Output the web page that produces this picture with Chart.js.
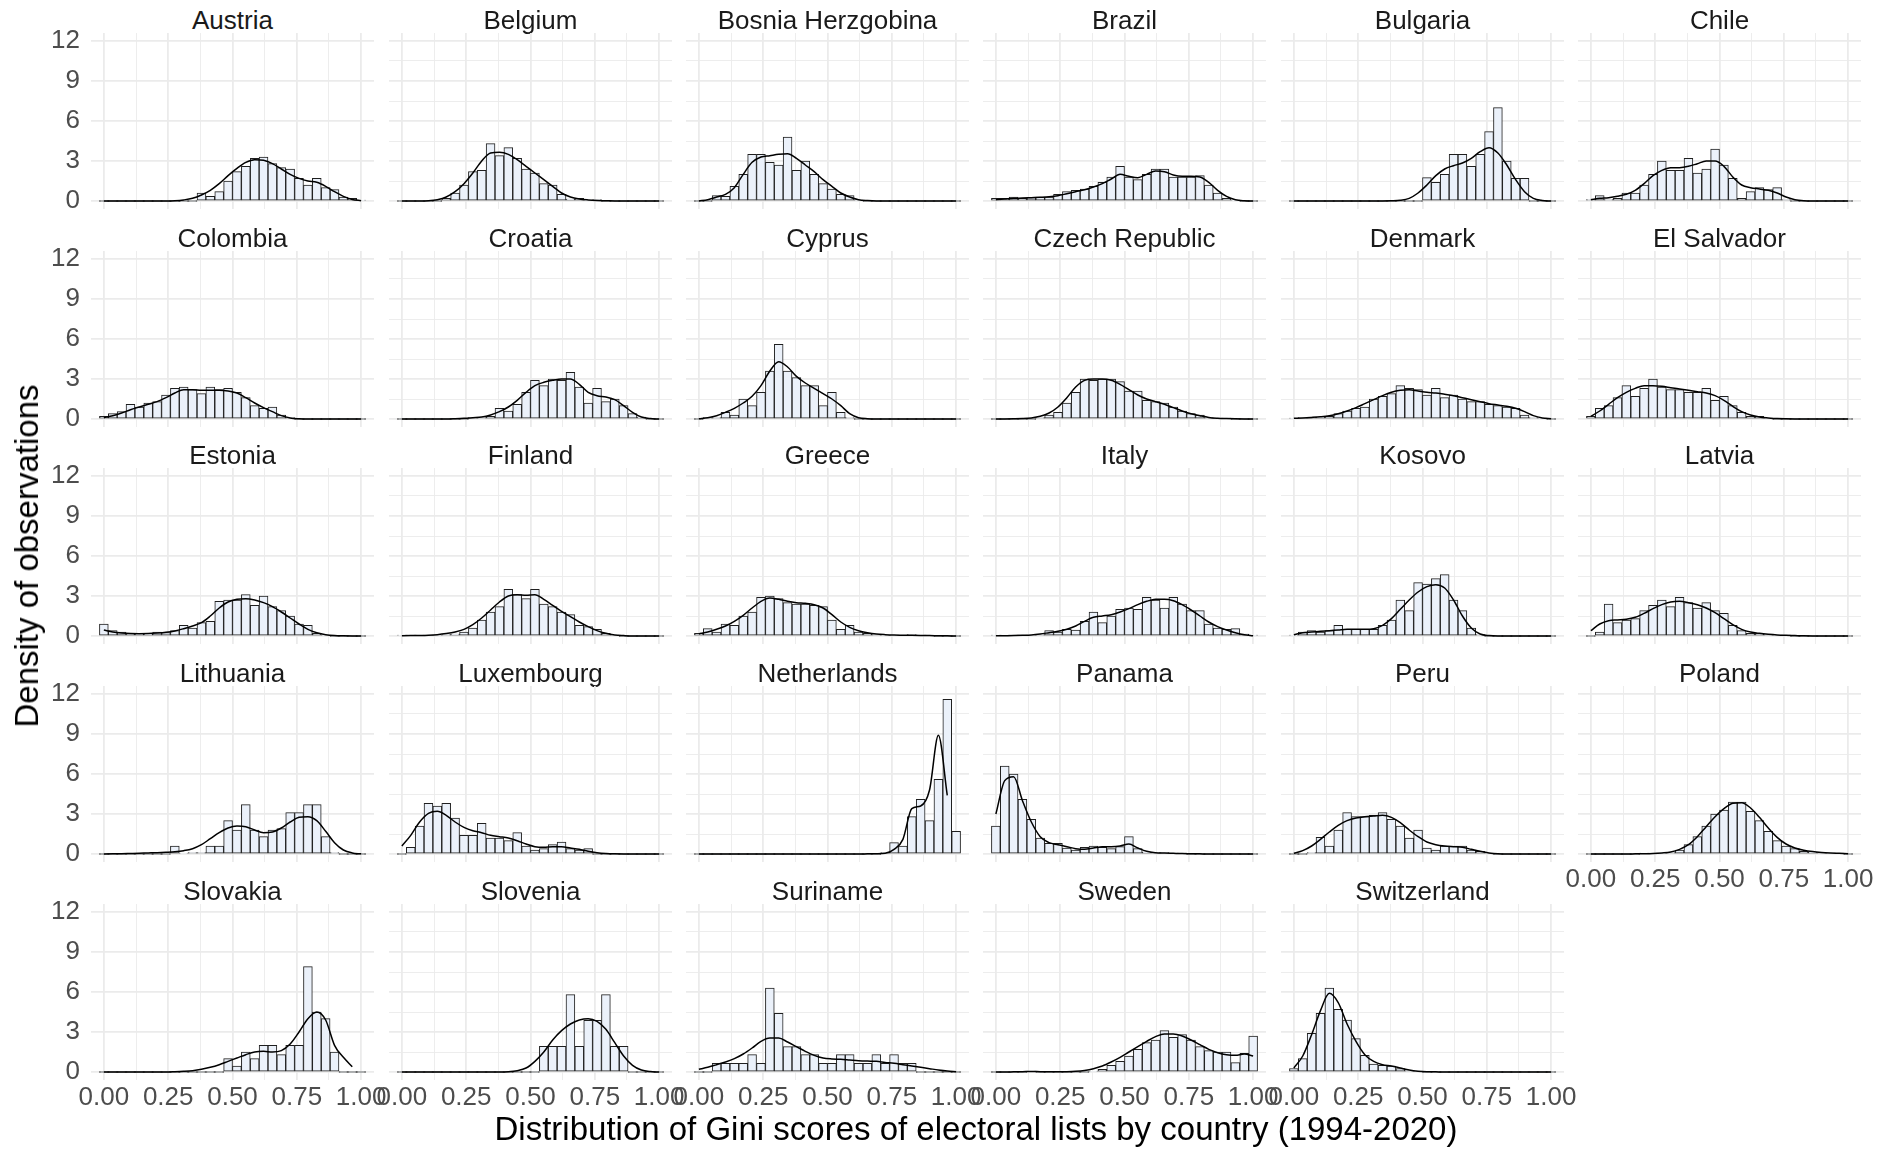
<!DOCTYPE html>
<html>
<head>
<meta charset="utf-8">
<script src="https://cdn.jsdelivr.net/npm/chart.js@4.4.1/dist/chart.umd.min.js"></script>
<style>
  body { margin: 0; background: #fff; width: 1894px; height: 1150px; position: relative; overflow: hidden;
         font-family: "Liberation Sans", Arial, sans-serif; }
  canvas { position: absolute; }
  .strip { position: absolute; text-align: center; font-size: 26px; line-height: 30px; color: #1a1a1a; white-space: nowrap; }
  .axtitle { position: absolute; font-size: 33px; line-height: 38px; color: #000; white-space: nowrap; }
</style>
</head>
<body>
<div id="fig"></div>
<script>
/* Gini histograms (density) with kernel density line, one small panel per country. */

// bin centres of the 30 histogram bins, shared by every panel
var binCenters = [0, 0.0345, 0.069, 0.1034, 0.1379, 0.1724, 0.2069, 0.2414, 0.2759, 0.3103,
  0.3448, 0.3793, 0.4138, 0.4483, 0.4828, 0.5172, 0.5517, 0.5862, 0.6207, 0.6552,
  0.6897, 0.7241, 0.7586, 0.7931, 0.8276, 0.8621, 0.8966, 0.931, 0.9655, 1];
var xTickValues = [0, 0.125, 0.25, 0.375, 0.5, 0.625, 0.75, 0.875, 1];
var yTickValues = [0, 1.5, 3, 4.5, 6, 7.5, 9, 10.5, 12];

var austriaBars = [0,0,0,0,0,0,0,0,0,0,0,0.6,0.35,0.7,1.5,2.2,2.6,3.2,3.3,2.8,2.5,2.4,1.7,1.2,1.7,1.0,0.85,0.3,0.2,0.05];
var austriaDensity = [0,0,0,0,0,0,0,0,0.02,0.08,0.2,0.45,0.8,1.3,1.9,2.45,2.9,3.1,3.05,2.8,2.4,2.0,1.7,1.5,1.4,1.1,0.7,0.35,0.12,0.02];
var belgiumBars = [0,0,0,0,0,0.2,0.6,1.2,2.2,2.3,4.3,3.4,4.0,3.2,2.4,2.1,1.3,1.2,0.5,0.15,0.2,0.05,0.1,0,0,0,0,0,0,0];
var belgiumDensity = [0,0,0,0.02,0.1,0.3,0.7,1.3,2.1,3.0,3.6,3.65,3.5,3.1,2.6,2.1,1.6,1.1,0.6,0.3,0.15,0.08,0.04,0.02,0,0,0,0,0,0];
var bosniaBars = [0,0,0.4,0.35,1.1,2.0,3.5,3.5,2.9,2.7,4.8,2.3,3.0,2.0,1.3,0.9,0.5,0.4,0.05,0,0,0,0,0,0,0,0,0,0,0];
var bosniaDensity = [0,0.1,0.3,0.5,1.0,2.0,2.9,3.3,3.4,3.5,3.55,3.2,2.7,2.2,1.6,1.1,0.6,0.3,0.1,0.03,0,0,0,0,0,0,0,0,0,0];
var brazilBars = [0.2,0.2,0.3,0.2,0.25,0.3,0.3,0.5,0.7,0.8,0.9,1.1,1.4,1.8,2.6,1.8,1.6,2.0,2.4,2.4,1.8,1.8,1.8,1.9,1.2,0.6,0.2,0.05,0,0];
var brazilDensity = [0.1,0.15,0.2,0.22,0.25,0.28,0.32,0.4,0.55,0.7,0.85,1.05,1.3,1.65,2.0,1.85,1.75,2.0,2.25,2.2,1.95,1.85,1.85,1.8,1.4,0.8,0.35,0.1,0.02,0];
var bulgariaBars = [0,0,0,0,0,0,0,0,0,0,0,0,0,0,0,1.75,1.4,2.0,3.5,3.5,2.6,3.5,5.2,7.0,3.0,1.7,1.7,0,0,0];
var bulgariaDensity = [0,0,0,0,0,0,0,0,0,0,0,0.01,0.05,0.2,0.6,1.2,1.9,2.4,2.65,2.85,3.2,3.7,4.0,3.6,2.7,1.6,0.7,0.2,0.04,0];
var chileBars = [0.1,0.4,0.1,0.2,0.6,0.6,1.2,2.0,3.0,2.3,2.3,3.2,2.1,2.4,3.9,2.7,1.7,0.2,0.7,1.0,0.85,1.0,0.1,0,0,0,0,0,0,0];
var chileDensity = [0.1,0.2,0.25,0.35,0.5,0.8,1.3,1.9,2.3,2.5,2.5,2.6,2.8,3.0,3.0,2.6,1.8,1.2,1.0,0.9,0.8,0.6,0.3,0.1,0.02,0,0,0,0,0];
var colombiaBars = [0.2,0.4,0.55,1.1,0.9,1.2,1.3,1.8,2.3,2.4,2.2,1.9,2.4,2.2,2.3,2.0,1.6,1.0,0.8,0.9,0.3,0.1,0,0,0,0,0,0,0,0];
var colombiaDensity = [0.1,0.25,0.45,0.7,0.9,1.1,1.3,1.6,1.95,2.2,2.2,2.15,2.15,2.15,2.1,1.95,1.6,1.2,0.85,0.55,0.25,0.08,0.02,0,0,0,0,0,0,0];
var croatiaBars = [0,0,0,0,0,0,0,0,0.1,0.1,0.2,0.8,0.6,1.1,2.0,2.9,2.5,3.0,2.9,3.5,2.4,1.2,2.3,1.3,1.5,1.0,0.4,0.15,0,0];
var croatiaDensity = [0,0,0,0,0,0,0.02,0.05,0.1,0.15,0.3,0.55,0.9,1.4,2.0,2.5,2.75,2.9,3.0,3.0,2.6,2.0,1.75,1.65,1.45,1.0,0.5,0.15,0.03,0];
var cyprusBars = [0,0.1,0.1,0.5,0.3,1.5,1.0,2.0,3.6,5.6,3.6,3.1,2.5,2.5,1.0,2.0,0.5,0.1,0,0,0,0,0,0,0,0,0,0,0,0];
var cyprusDensity = [0.02,0.1,0.25,0.5,0.8,1.2,1.7,2.5,3.6,4.3,3.9,3.2,2.7,2.3,1.9,1.5,1.0,0.4,0.1,0.02,0,0,0,0,0,0,0,0,0,0];
var czechBars = [0,0,0,0,0,0.1,0.3,0.5,1.2,2.0,3.0,2.9,3.0,3.0,2.8,2.1,2.1,1.4,1.3,1.2,0.9,0.6,0.4,0.3,0.1,0.05,0.05,0,0,0];
var czechDensity = [0,0,0.01,0.03,0.08,0.2,0.45,0.9,1.6,2.4,2.9,3.0,3.0,2.9,2.6,2.2,1.8,1.5,1.3,1.1,0.85,0.6,0.4,0.25,0.12,0.06,0.03,0.01,0,0];
var denmarkBars = [0.05,0.1,0.15,0.15,0.2,0.4,0.6,0.8,0.9,1.5,1.7,1.9,2.5,2.3,2.2,1.8,2.3,1.6,1.8,1.5,1.3,1.3,1.1,1.0,0.9,0.8,0.3,0.1,0.05,0];
var denmarkDensity = [0.05,0.08,0.12,0.17,0.25,0.4,0.6,0.85,1.15,1.45,1.75,2.0,2.15,2.2,2.1,2.0,1.95,1.85,1.75,1.6,1.45,1.3,1.15,1.05,0.95,0.8,0.55,0.25,0.08,0.02];
var elSalvadorBars = [0.2,0.8,1.0,1.6,2.5,1.7,2.3,3.0,2.4,2.2,2.2,2.0,2.0,2.3,1.4,1.7,1.0,0.5,0.2,0.2,0.05,0,0,0,0,0,0,0,0,0];
var elSalvadorDensity = [0.2,0.6,1.1,1.6,2.0,2.3,2.5,2.5,2.45,2.35,2.25,2.15,2.05,1.95,1.75,1.4,0.95,0.55,0.3,0.15,0.08,0.03,0.01,0,0,0,0,0,0,0];
var estoniaBars = [0.9,0.4,0.3,0.2,0.15,0.15,0.3,0.25,0.4,0.8,0.6,1.0,1.1,2.6,2.7,2.7,3.1,2.3,3.0,2.2,1.9,1.5,0.9,0.8,0.2,0.05,0,0,0,0];
var estoniaDensity = [0.45,0.3,0.22,0.18,0.17,0.18,0.22,0.28,0.38,0.55,0.75,1.0,1.5,2.1,2.55,2.75,2.8,2.7,2.5,2.2,1.8,1.35,0.9,0.5,0.25,0.1,0.03,0.01,0,0];
var finlandBars = [0.02,0.03,0.03,0.05,0.05,0.1,0.15,0.3,0.6,1.2,1.8,2.2,3.5,3.1,2.8,3.5,2.4,2.2,1.8,1.6,0.8,0.7,0.5,0.2,0.05,0,0,0,0,0];
var finlandDensity = [0.02,0.03,0.04,0.06,0.1,0.18,0.3,0.5,0.85,1.35,1.95,2.55,3.0,3.1,3.05,3.1,2.75,2.3,1.85,1.45,1.05,0.7,0.4,0.2,0.08,0.03,0,0,0,0];
var greeceBars = [0.2,0.55,0.3,0.9,0.8,1.5,1.8,2.9,3.0,2.8,2.5,2.4,2.4,2.3,2.2,1.2,0.5,0.8,0.3,0.2,0.1,0.05,0.05,0.05,0.1,0.05,0.05,0,0,0];
var greeceDensity = [0.15,0.3,0.5,0.75,1.1,1.55,2.1,2.6,2.85,2.75,2.6,2.5,2.45,2.35,2.1,1.6,1.05,0.65,0.4,0.25,0.15,0.1,0.07,0.06,0.05,0.04,0.03,0.02,0.01,0];
var italyBars = [0.02,0.02,0.03,0.05,0.05,0.1,0.4,0.3,0.5,0.45,1.1,1.8,1.0,1.5,2.0,2.1,2.0,2.9,2.7,2.1,2.9,2.4,1.9,1.9,0.9,0.6,0.5,0.55,0.15,0.05];
var italyDensity = [0.01,0.02,0.03,0.05,0.08,0.15,0.25,0.35,0.5,0.75,1.1,1.4,1.5,1.6,1.8,2.05,2.35,2.6,2.75,2.75,2.65,2.35,1.95,1.5,1.05,0.7,0.45,0.25,0.1,0.02];
var kosovoBars = [0.05,0.3,0.4,0.3,0.4,0.8,0.5,0.5,0.5,0.5,0.8,1.2,2.7,1.9,4.0,3.9,4.3,4.6,2.7,1.9,0.6,0.1,0,0,0,0,0,0,0,0];
var kosovoDensity = [0.1,0.25,0.3,0.35,0.4,0.45,0.5,0.5,0.5,0.55,0.8,1.3,2.0,2.7,3.3,3.7,3.85,3.6,2.7,1.5,0.6,0.15,0.03,0,0,0,0,0,0,0];
var latviaBars = [0,0.3,2.4,1.0,1.2,1.3,1.9,2.3,2.7,2.2,2.9,2.5,2.1,2.5,1.9,1.7,0.8,0.4,0.2,0.2,0.1,0.05,0.05,0,0,0,0,0,0,0];
var latviaDensity = [0.4,0.9,1.15,1.2,1.25,1.4,1.7,2.05,2.35,2.55,2.6,2.5,2.35,2.1,1.75,1.3,0.85,0.5,0.3,0.2,0.13,0.08,0.05,0.03,0.01,0,0,0,0,0];
var lithuaniaBars = [0,0,0,0,0,0,0,0,0.6,0.05,0.1,0.1,0.6,0.6,2.5,1.8,3.7,1.8,1.3,1.8,1.9,3.1,3.1,3.7,3.7,1.3,0.1,0,0,0];
var lithuaniaDensity = [0,0.01,0.02,0.04,0.06,0.08,0.1,0.13,0.17,0.25,0.4,0.7,1.15,1.6,1.95,2.1,2.05,1.8,1.6,1.65,1.95,2.4,2.75,2.8,2.5,1.7,0.85,0.3,0.08,0.01];
var luxembourgBars = [0,0.5,2.1,3.8,3.6,3.8,2.7,1.4,1.4,2.3,1.2,1.2,1.0,1.6,0.6,0.3,0.4,0.7,0.9,0.4,0.3,0.4,0,0,0,0,0,0,0,0];
var luxembourgDensity = [0.6,1.4,2.4,3.05,3.2,2.9,2.4,2.0,1.75,1.6,1.4,1.3,1.2,1.0,0.75,0.55,0.5,0.55,0.55,0.45,0.35,0.2,0.1,0.04,0.01,0,0,0,0,0];
var netherlandsBars = [0,0,0,0,0,0,0,0,0,0,0,0,0,0,0,0,0,0,0,0,0,0.1,0.85,0.6,2.8,4.1,2.5,5.6,11.6,1.7];
var netherlandsDensity = [0,0,0,0,0,0,0,0,0,0,0,0,0,0,0,0,0,0,0,0.01,0.02,0.05,0.35,1.1,3.4,3.6,4.8,8.9,4.4,null];
var panamaBars = [2.1,6.6,6.0,4.1,2.6,1.2,0.8,0.8,0.45,0.3,0.5,0.6,0.5,0.4,0.55,1.3,0.4,0.15,0.1,0.1,0.05,0.05,0,0,0,0,0,0,0,0];
var panamaDensity = [3.0,5.5,5.8,4.0,2.4,1.3,0.85,0.7,0.55,0.4,0.35,0.45,0.55,0.55,0.6,0.75,0.45,0.2,0.1,0.07,0.05,0.03,0.02,0.01,0,0,0,0,0,0];
var peruBars = [0,0,0.1,1.25,0.6,1.8,3.1,2.8,2.8,2.9,3.1,2.6,2.1,1.2,1.8,0.45,0.3,0.6,0.6,0.6,0.3,0.2,0.05,0,0,0,0,0,0,0];
var peruDensity = [0.05,0.25,0.6,1.1,1.65,2.15,2.5,2.7,2.8,2.85,2.9,2.75,2.35,1.8,1.3,0.9,0.7,0.6,0.55,0.5,0.35,0.2,0.08,0.02,0,0,0,0,0,0];
var polandBars = [0,0,0,0,0,0,0.02,0.03,0.05,0.1,0.3,0.7,1.3,2.1,3.0,3.3,3.9,3.9,3.2,2.5,1.7,1.0,0.6,0.4,0.2,0.15,0.1,0.05,0.05,0];
var polandDensity = [0,0,0,0,0,0.01,0.02,0.04,0.08,0.15,0.35,0.7,1.3,2.05,2.8,3.4,3.8,3.85,3.45,2.75,1.95,1.25,0.75,0.45,0.28,0.18,0.12,0.08,0.05,0.02];
var slovakiaBars = [0,0,0,0,0,0,0,0,0,0,0,0,0,0,1.0,0.45,1.5,1.0,2.0,2.0,1.3,2.0,2.0,7.9,4.5,4.0,1.5,0,0,0];
var slovakiaDensity = [0,0,0,0,0,0,0,0,0.02,0.05,0.1,0.2,0.35,0.55,0.8,1.05,1.3,1.5,1.55,1.5,1.6,2.1,3.0,4.0,4.5,3.9,2.0,1.1,0.4,null];
var sloveniaBars = [0,0,0,0,0,0,0,0,0,0,0,0,0,0,0,0,1.93,1.93,1.93,5.8,1.93,3.87,3.87,5.8,1.93,1.93,0,0,0,0];
var sloveniaDensity = [0,0,0,0,0,0,0,0,0,0,0,0,0.02,0.1,0.3,0.8,1.5,2.4,3.1,3.6,3.9,4.0,3.8,3.2,2.2,1.2,0.5,0.15,0.03,0];
var surinameBars = [0,0,0.65,0.65,0.65,0.65,1.3,0.65,6.3,4.4,1.9,1.9,1.3,1.3,0.65,0.65,1.3,1.3,0.65,0.65,1.3,0.65,1.3,0.65,0.65,0,0,0,0,0];
var surinameDensity = [0.2,0.35,0.55,0.75,1.0,1.35,1.8,2.3,2.55,2.55,2.25,1.9,1.55,1.25,1.05,0.98,0.95,0.9,0.85,0.82,0.8,0.72,0.65,0.55,0.45,0.35,0.25,0.15,0.07,0.02];
var swedenBars = [0,0,0,0,0.05,0,0,0,0,0,0,0.05,0.2,0.5,0.8,1.2,1.7,2.2,2.4,3.1,2.6,2.8,2.4,1.9,1.6,1.5,1.5,0.7,1.4,2.7];
var swedenDensity = [0,0,0.01,0.02,0.04,0.02,0.01,0.01,0.02,0.05,0.12,0.25,0.45,0.75,1.1,1.5,1.9,2.3,2.65,2.85,2.85,2.7,2.4,2.05,1.7,1.45,1.3,1.25,1.35,1.2];
var switzerlandBars = [0.25,1.0,2.9,4.4,6.3,4.7,3.9,2.5,1.25,0.6,0.5,0.45,0.25,0.1,0.05,0,0,0,0,0,0,0,0,0,0,0,0,0,0,0];
var switzerlandDensity = [0.3,1.2,2.8,4.6,5.9,5.2,3.6,2.3,1.3,0.8,0.55,0.45,0.3,0.15,0.06,0.02,0.01,0,0,0,0,0,0,0,0,0,0,0,0,0];

var panels = [
  ['Austria', austriaBars, austriaDensity], ['Belgium', belgiumBars, belgiumDensity],
  ['Bosnia Herzgobina', bosniaBars, bosniaDensity], ['Brazil', brazilBars, brazilDensity],
  ['Bulgaria', bulgariaBars, bulgariaDensity], ['Chile', chileBars, chileDensity],
  ['Colombia', colombiaBars, colombiaDensity], ['Croatia', croatiaBars, croatiaDensity],
  ['Cyprus', cyprusBars, cyprusDensity], ['Czech Republic', czechBars, czechDensity],
  ['Denmark', denmarkBars, denmarkDensity], ['El Salvador', elSalvadorBars, elSalvadorDensity],
  ['Estonia', estoniaBars, estoniaDensity], ['Finland', finlandBars, finlandDensity],
  ['Greece', greeceBars, greeceDensity], ['Italy', italyBars, italyDensity],
  ['Kosovo', kosovoBars, kosovoDensity], ['Latvia', latviaBars, latviaDensity],
  ['Lithuania', lithuaniaBars, lithuaniaDensity], ['Luxembourg', luxembourgBars, luxembourgDensity],
  ['Netherlands', netherlandsBars, netherlandsDensity], ['Panama', panamaBars, panamaDensity],
  ['Peru', peruBars, peruDensity], ['Poland', polandBars, polandDensity],
  ['Slovakia', slovakiaBars, slovakiaDensity], ['Slovenia', sloveniaBars, sloveniaDensity],
  ['Suriname', surinameBars, surinameDensity], ['Sweden', swedenBars, swedenDensity],
  ['Switzerland', switzerlandBars, switzerlandDensity]
];

// panel geometry (px)
var COL_X0 = 104, COL_STEP = 297.4, X_UNIT = 257.5;
var ROW_Y12 = 41, ROW_STEP = 217.7, Y_UNIT = 13.32;
var PAD_L = 90, PAD_T = 4, PAD_R = 30, PAD_B = 45;
var FONT = '"Liberation Sans", Arial, sans-serif';

function isMajorX(v) { return Math.abs(v * 4 - Math.round(v * 4)) < 1e-6; }
function isMajorY(v) { return Math.abs(v / 3 - Math.round(v / 3)) < 1e-6; }
function points(vals) {
  return binCenters.map(function (x, k) { return { x: x, y: vals[k] }; });
}

var fig = document.getElementById('fig');

panels.forEach(function (p, i) {
  var col = i % 6, row = Math.floor(i / 6);
  var panelLeft = Math.round(COL_X0 + COL_STEP * col - 0.05 * X_UNIT);
  var panelTop = Math.round(ROW_Y12 + ROW_STEP * row - 0.6 * Y_UNIT);
  var panelW = Math.round(1.1 * X_UNIT), panelH = Math.round(13.2 * Y_UNIT);
  var showX = i >= 23, showY = col === 0;

  var strip = document.createElement('div');
  strip.className = 'strip';
  strip.textContent = p[0];
  strip.style.left = panelLeft + 'px';
  strip.style.width = panelW + 'px';
  strip.style.top = (panelTop + 8 - 36) + 'px';
  fig.appendChild(strip);

  var cv = document.createElement('canvas');
  cv.width = PAD_L + panelW + PAD_R;
  cv.height = PAD_T + panelH + PAD_B;
  cv.style.left = (panelLeft - PAD_L) + 'px';
  cv.style.top = (panelTop - PAD_T) + 'px';
  fig.appendChild(cv);

  new Chart(cv, {
    type: 'bar',
    data: {
      datasets: [
        {
          type: 'line', data: points(p[2]), borderColor: '#000', borderWidth: 1.5,
          pointRadius: 0, fill: false, cubicInterpolationMode: 'monotone', spanGaps: false, order: 0
        },
        {
          type: 'bar', data: points(p[1]), backgroundColor: '#ebf1fa', borderColor: '#1f1f1f',
          borderWidth: 1, borderSkipped: false, barPercentage: 1, categoryPercentage: 1,
          minBarLength: 1, order: 1
        }
      ]
    },
    options: {
      responsive: false,
      animation: false,
      events: [],
      layout: { padding: { left: 0, top: PAD_T, right: PAD_R, bottom: 0 } },
      plugins: { legend: { display: false }, tooltip: { enabled: false } },
      scales: {
        x: {
          type: 'linear', min: -0.05, max: 1.05, offset: false,
          afterBuildTicks: function (s) { s.ticks = xTickValues.map(function (v) { return { value: v }; }); },
          afterFit: function (s) { s.height = PAD_B; s.paddingLeft = 0; s.paddingRight = 0; },
          border: { display: false },
          grid: {
            offset: false, drawTicks: false, color: '#ebebeb',
            lineWidth: function (ctx) { return ctx.tick && isMajorX(ctx.tick.value) ? 1.8 : 0.9; }
          },
          ticks: {
            display: showX, autoSkip: false, maxRotation: 0, padding: 2, color: '#4d4d4d',
            font: { family: FONT, size: 26 },
            callback: function (v) { return isMajorX(v) ? v.toFixed(2) : ''; }
          }
        },
        y: {
          type: 'linear', min: -0.6, max: 12.6, beginAtZero: false,
          afterBuildTicks: function (s) { s.ticks = yTickValues.map(function (v) { return { value: v }; }); },
          // keep the plot area identical whether or not the tick labels are shown
          afterFit: function (s) { s.width = PAD_L; s.paddingTop = 0; s.paddingBottom = 0; },
          border: { display: false },
          grid: {
            drawTicks: false, color: '#ebebeb',
            lineWidth: function (ctx) { return ctx.tick && isMajorY(ctx.tick.value) ? 1.8 : 0.9; }
          },
          ticks: {
            display: showY, padding: 11, color: '#4d4d4d',
            font: { family: FONT, size: 26 },
            callback: function (v) { return isMajorY(v) ? String(v) : ''; }
          }
        }
      }
    }
  });
});

var xTitle = document.createElement('div');
xTitle.className = 'axtitle';
xTitle.textContent = 'Distribution of Gini scores of electoral lists by country (1994-2020)';
xTitle.style.left = '976px';
xTitle.style.top = '1129px';
xTitle.style.transform = 'translate(-50%, -50%)';
fig.appendChild(xTitle);

var yTitle = document.createElement('div');
yTitle.className = 'axtitle';
yTitle.textContent = 'Density of observations';
yTitle.style.left = '27px';
yTitle.style.top = '556px';
yTitle.style.transform = 'translate(-50%, -50%) rotate(-90deg)';
fig.appendChild(yTitle);
</script>
</body>
</html>
